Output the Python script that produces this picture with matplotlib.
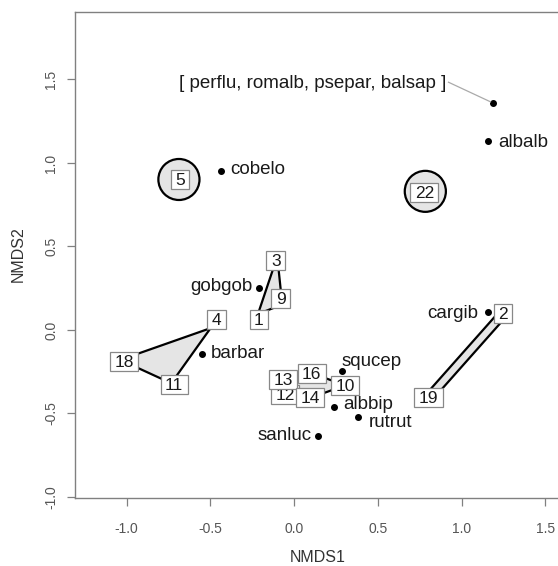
import numpy as np
import matplotlib
matplotlib.use("Agg")
import matplotlib.pyplot as plt
from matplotlib.patches import Polygon, Circle, Rectangle
from matplotlib.transforms import IdentityTransform, offset_copy

plt.rcParams['font.family'] = ['Liberation Sans', 'DejaVu Sans']

# ---------------- data ----------------
# species scores
species = ["[ perflu, romalb, psepar, balsap ]", "albalb", "cobelo", "gobgob",
           "barbar", "squcep", "albbip", "rutrut", "sanluc", "cargib"]
species_x = [1.191, 1.161, -0.438, -0.209, -0.551, 0.289, 0.237, 0.381, 0.145, 1.161]
species_y = [1.360, 1.130, 0.950, 0.252, -0.142, -0.248, -0.464, -0.524, -0.632, 0.105]

# site scores (hull vertices) and label positions
sites = [1, 2, 3, 4, 5, 9, 10, 11, 12, 13, 14, 16, 18, 19, 22]
site_x = [-0.215, 1.247, -0.100, -0.498, -0.687, -0.070, 0.305, -0.733, -0.054, -0.064, 0.096, 0.106, -1.037, 0.802, 0.784]
site_y = [0.096, 0.096, 0.439, 0.011, 0.901, 0.152, -0.332, -0.319, -0.388, -0.294, -0.407, -0.258, -0.179, -0.407, 0.830]
label_x = [-0.209, 1.247, -0.109, -0.464, -0.681, -0.079, 0.305, -0.715, -0.054, -0.064, 0.096, 0.106, -1.014, 0.802, 0.778]
label_y = [0.062, 0.096, 0.417, 0.062, 0.901, 0.186, -0.332, -0.328, -0.388, -0.294, -0.407, -0.258, -0.188, -0.407, 0.824]

# groups of sites enclosed by hulls
groups = [[4, 18, 11], [3, 9, 1], [2, 19], [13, 16, 10, 14, 12], [5], [22]]

xticks = [-1.0, -0.5, 0.0, 0.5, 1.0, 1.5]
xtick_labels = ["-1.0", "-0.5", "0.0", "0.5", "1.0", "1.5"]
yticks = [-1.0, -0.5, 0.0, 0.5, 1.0, 1.5]
ytick_labels = ["-1.0", "-0.5", "0.0", "0.5", "1.0", "1.5"]

# ---------------- style ----------------
# (ha, dx px, dy px downward of baseline)
sp_style = [("right", -47.6, -15.0), ("left", 10, 6), ("left", 9.3, 2.5), ("right", -6.3, 3.4),
            ("left", 9, 4.3), ("left", -0.6, -5), ("left", 9.6, 1.5), ("left", 10.6, 10),
            ("right", -6.6, 4.3), ("right", -10, 6)]
HULL_FILL = "#E5E5E5"
SPINE = "#808080"

W, H, DPI = 558, 566, 100
fig = plt.figure(figsize=(W / DPI, H / DPI), dpi=DPI)
L, R, T, B = 75, 561, 12.3, 498
ax = fig.add_axes([L / W, (H - B) / H, (R - L) / W, (B - T) / H])
ax.set_xlim(-1.3075, 1.594)
ax.set_ylim(-1.006, 1.902)

for s in ax.spines.values():
    s.set_color(SPINE)
    s.set_linewidth(1.0)
ax.set_xticks(xticks)
ax.set_xticklabels(xtick_labels)
ax.set_yticks(yticks)
ax.set_yticklabels(ytick_labels, rotation=90, va="center")
ax.tick_params(axis="both", colors=SPINE, labelcolor="#555555", labelsize=10,
               length=6, width=0.9)
ax.tick_params(axis="x", pad=11)
ax.tick_params(axis="y", pad=6)

fig.text(318 / W, 1 - 557 / H, "NMDS1", ha="center", va="center", fontsize=11.5, color="#333333")
fig.text(18 / W, 1 - 254 / H, "NMDS2", ha="center", va="center", rotation=90, fontsize=11.5, color="#333333")

px_per_unit = (B - T) / (1.902 + 1.006)
pos = {s: (site_x[i], site_y[i]) for i, s in enumerate(sites)}


def convex_hull(pts):
    pts = sorted(set(pts))
    if len(pts) <= 2:
        return pts

    def cross(o, a, b):
        return (a[0] - o[0]) * (b[1] - o[1]) - (a[1] - o[1]) * (b[0] - o[0])
    lower, upper = [], []
    for p in pts:
        while len(lower) >= 2 and cross(lower[-2], lower[-1], p) <= 0:
            lower.pop()
        lower.append(p)
    for p in reversed(pts):
        while len(upper) >= 2 and cross(upper[-2], upper[-1], p) <= 0:
            upper.pop()
        upper.append(p)
    return lower[:-1] + upper[:-1]


for g in groups:
    pts = [pos[s] for s in g]
    if len(pts) == 1:
        ax.add_patch(Circle(pts[0], 20.5 / px_per_unit, facecolor=HULL_FILL,
                            edgecolor="black", lw=1.6, zorder=2))
    elif len(pts) == 2:
        p0, p1 = np.array(pts[0]), np.array(pts[1])
        d = (p1 - p0) / np.linalg.norm(p1 - p0)
        n = np.array([-d[1], d[0]]) * (4.2 / px_per_unit)
        poly = [p0 + n, p1 + n, p1 - n, p0 - n]
        ax.add_patch(Polygon(poly, closed=True, facecolor=HULL_FILL,
                             edgecolor="black", lw=1.6, zorder=2))
    else:
        hull = convex_hull(pts)
        ax.add_patch(Polygon(hull, closed=True, facecolor=HULL_FILL,
                             edgecolor="black", lw=1.6, zorder=2))

# species points and labels
ax.plot(species_x, species_y, "o", color="black", ms=4, zorder=3, clip_on=False)
for i, name in enumerate(species):
    ha, dx, dy = sp_style[i]
    tr = offset_copy(ax.transData, fig=fig, x=dx, y=-dy, units="dots")
    ax.text(species_x[i], species_y[i], name, transform=tr, ha=ha, va="baseline",
            fontsize=13.5, color="#1a1a1a", zorder=3)

# connector line for grouped label
p = ax.transData.transform((species_x[0], species_y[0]))
ax.plot([p[0] - 45, p[0] - 3], [p[1] + 20.6, p[1] + 1], color="#aaaaaa", lw=0.9,
        transform=IdentityTransform(), zorder=3)

# site labels in boxes
fig.canvas.draw()
renderer = fig.canvas.get_renderer()
order = sorted(range(len(sites)), key=lambda i: sites[i])
for k, i in enumerate(order):
    z = 10 + 2 * k
    tr = offset_copy(ax.transData, fig=fig, x=0, y=-1, units="dots")
    t = ax.text(label_x[i], label_y[i], str(sites[i]), transform=tr, ha="center", va="center",
                fontsize=12.5, color="#1a1a1a", zorder=z + 1)
    bb = t.get_window_extent(renderer)
    c = ax.transData.transform((label_x[i], label_y[i]))
    w, h = bb.width + 9, 19
    ax.add_patch(Rectangle((c[0] - w / 2, c[1] - h / 2), w, h, transform=IdentityTransform(),
                           facecolor="white", edgecolor="#888888", lw=0.9, zorder=z))

fig.savefig("out.png", dpi=DPI)
